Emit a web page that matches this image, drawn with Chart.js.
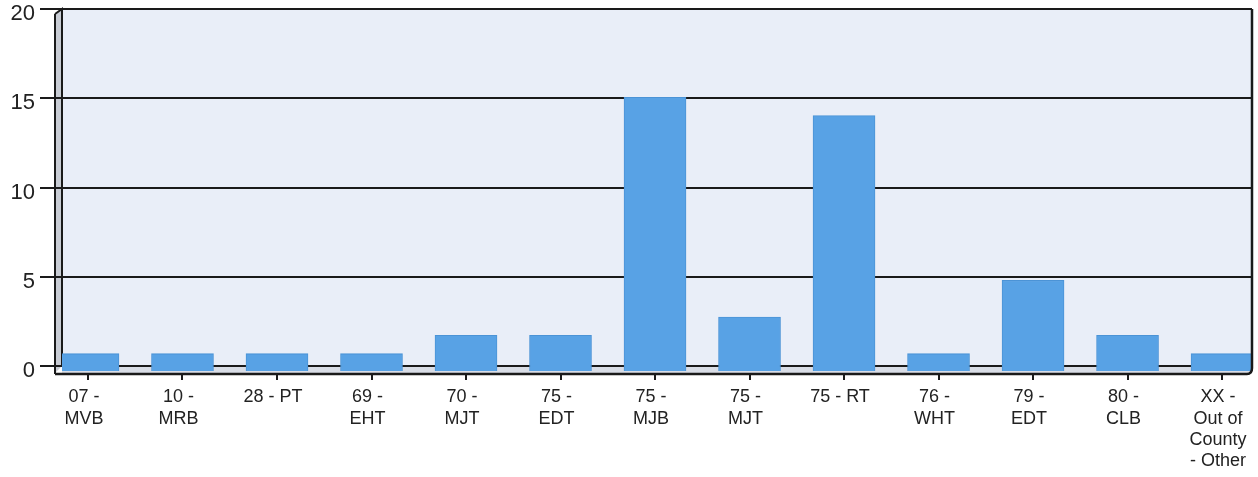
<!DOCTYPE html>
<html>
<head>
<meta charset="utf-8">
<script src="https://cdn.jsdelivr.net/npm/chart.js@4/dist/chart.umd.min.js"></script>
<style>
  html, body { margin: 0; padding: 0; background: #ffffff; }
  #wrap { width: 1258px; height: 477px; position: relative; }
</style>
</head>
<body>
<div id="wrap"><canvas id="c" width="1258" height="477"></canvas></div>
<script>
const categories = [
  ["07 -", "MVB"], ["10 -", "MRB"], "28 - PT", ["69 -", "EHT"], ["70 -", "MJT"],
  ["75 -", "EDT"], ["75 -", "MJB"], ["75 -", "MJT"], "75 - RT", ["76 -", "WHT"],
  ["79 -", "EDT"], ["80 -", "CLB"], ["XX -", "Out of", "County", "- Other"]
];
const counts = [1, 1, 1, 1, 2, 2, 15, 3, 14, 1, 5, 2, 1];
const yTicks = [0, 5, 10, 15, 20];

const frame = {
  id: 'frame',
  beforeDraw(chart) {
    const { ctx, chartArea: a } = chart;
    ctx.save();
    ctx.fillStyle = '#e9eef8';
    ctx.fillRect(a.left, a.top, a.right - a.left, a.bottom - a.top);
    ctx.fillStyle = '#c8ccd4';
    ctx.beginPath();
    ctx.moveTo(a.left - 7, a.top + 5);
    ctx.lineTo(a.left, a.top);
    ctx.lineTo(a.left, a.bottom);
    ctx.lineTo(a.left - 7, a.bottom + 7);
    ctx.closePath();
    ctx.fill();
    ctx.strokeStyle = '#1a1a1a';
    ctx.lineWidth = 2;
    ctx.beginPath();
    ctx.moveTo(a.left - 7, a.top + 5);
    ctx.lineTo(a.left - 7, a.bottom + 8);
    ctx.moveTo(a.left - 7, a.top + 5);
    ctx.lineTo(a.left, a.top);
    ctx.lineTo(a.left, a.bottom);
    ctx.stroke();
    ctx.restore();
  },
  beforeDatasetsDraw(chart) {
    const { ctx, chartArea: a } = chart;
    ctx.save();
    ctx.fillStyle = '#d9dde6';
    ctx.fillRect(a.left, a.bottom + 1, a.right - a.left, 7);
    ctx.strokeStyle = '#1a1a1a';
    ctx.lineWidth = 2;
    ctx.beginPath();
    ctx.moveTo(a.left, a.bottom);
    ctx.lineTo(a.right, a.bottom);
    ctx.stroke();
    ctx.restore();
    // bars sit on the front plane of the 3D box
    ctx.save();
    ctx.translate(0, -3.5);
    ctx.scale(1, 1.026);
  },
  afterDatasetsDraw(chart) {
    const { ctx, chartArea: a } = chart;
    ctx.restore();
    ctx.save();
    ctx.strokeStyle = '#1a1a1a';
    ctx.lineWidth = 2.5;
    ctx.beginPath();
    ctx.moveTo(a.left - 7, a.bottom + 8);
    ctx.lineTo(a.right - 5, a.bottom + 8);
    ctx.quadraticCurveTo(a.right, a.bottom + 8, a.right, a.bottom + 2);
    ctx.lineTo(a.right, a.top);
    ctx.stroke();
    ctx.restore();
  }
};

new Chart(document.getElementById('c'), {
  type: 'bar',
  data: {
    datasets: [{
      data: counts.map((v, i) => ({ x: i, y: v })),
      backgroundColor: '#58a2e5',
      borderColor: '#4b93d6',
      borderWidth: 1,
      barThickness: 62
    }]
  },
  plugins: [frame],
  options: {
    responsive: false,
    animation: false,
    layout: { padding: { top: 9, right: 6, left: 0, bottom: 0 } },
    plugins: { legend: { display: false }, tooltip: { enabled: false } },
    scales: {
      x: {
        type: 'linear',
        offset: false,
        min: -0.275,
        max: 12.317,
        afterBuildTicks(scale) { scale.ticks = categories.map((_, i) => ({ value: i })); },
        afterFit(scale) { scale.height = 111; scale.paddingLeft = 0; scale.paddingRight = 0; },
        border: { display: false },
        grid: { offset: false, drawOnChartArea: false, drawTicks: true, tickLength: 14, color: '#1a1a1a', lineWidth: 2 },
        ticks: {
          autoSkip: false,
          maxRotation: 0,
          minRotation: 0,
          padding: 7,
          labelOffset: -4,
          color: '#222222',
          font: { family: '"Liberation Sans", Arial, sans-serif', size: 18, lineHeight: 1.17 },
          callback: (v) => categories[Math.round(v)]
        }
      },
      y: {
        min: 0,
        max: 20,
        afterBuildTicks(scale) { scale.ticks = yTicks.map(v => ({ value: v })); },
        afterFit(scale) { scale.width = 62; scale.paddingTop = 0; scale.paddingBottom = 0; },
        border: { display: false },
        grid: { color: '#1a1a1a', lineWidth: 2, drawTicks: true, tickLength: 22 },
        ticks: {
          padding: 5,
          labelOffset: 5,
          color: '#222222',
          font: { family: '"Liberation Sans", Arial, sans-serif', size: 22 }
        }
      }
    }
  }
});
</script>
</body>
</html>
